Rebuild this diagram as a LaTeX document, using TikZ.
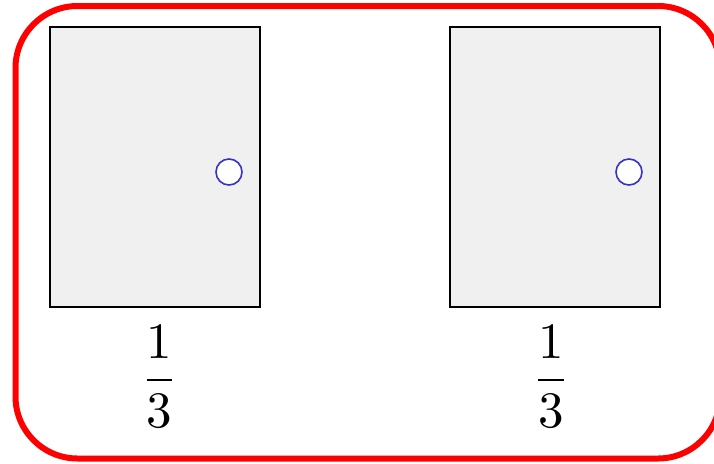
\documentclass[tikz,border=0pt]{standalone}
\begin{document}
\begin{tikzpicture}[x=1pt,y=-1pt,
  door/.style={draw=black,fill={rgb,255:red,240;green,240;blue,240},line width=1.4pt},
  knob/.style={circle,draw={rgb,255:red,51;green,51;blue,204},fill=white,line width=1.6pt,minimum size=26pt,inner sep=0pt},
  frac/.style={scale=5.1,inner sep=0pt}]
\useasboundingbox (0,0) rectangle (714,463);
\draw[red,line width=6pt,rounded corners=62pt] (15.5,6) rectangle (720,458.5);
\node[door,minimum width=210pt,minimum height=280pt,inner sep=0pt] (d1) at (155,167) {};
\node[door,minimum width=210pt,minimum height=280pt,inner sep=0pt] (d2) at (555,167) {};
\node[knob] (k1) at (229,172) {};
\node[knob] (k2) at (629,172) {};
\node[frac] (f1) at (159.5,376.5) {$\displaystyle\frac{1}{3}$};
\node[frac] (f2) at (551,376.5) {$\displaystyle\frac{1}{3}$};
\end{tikzpicture}
\end{document}
